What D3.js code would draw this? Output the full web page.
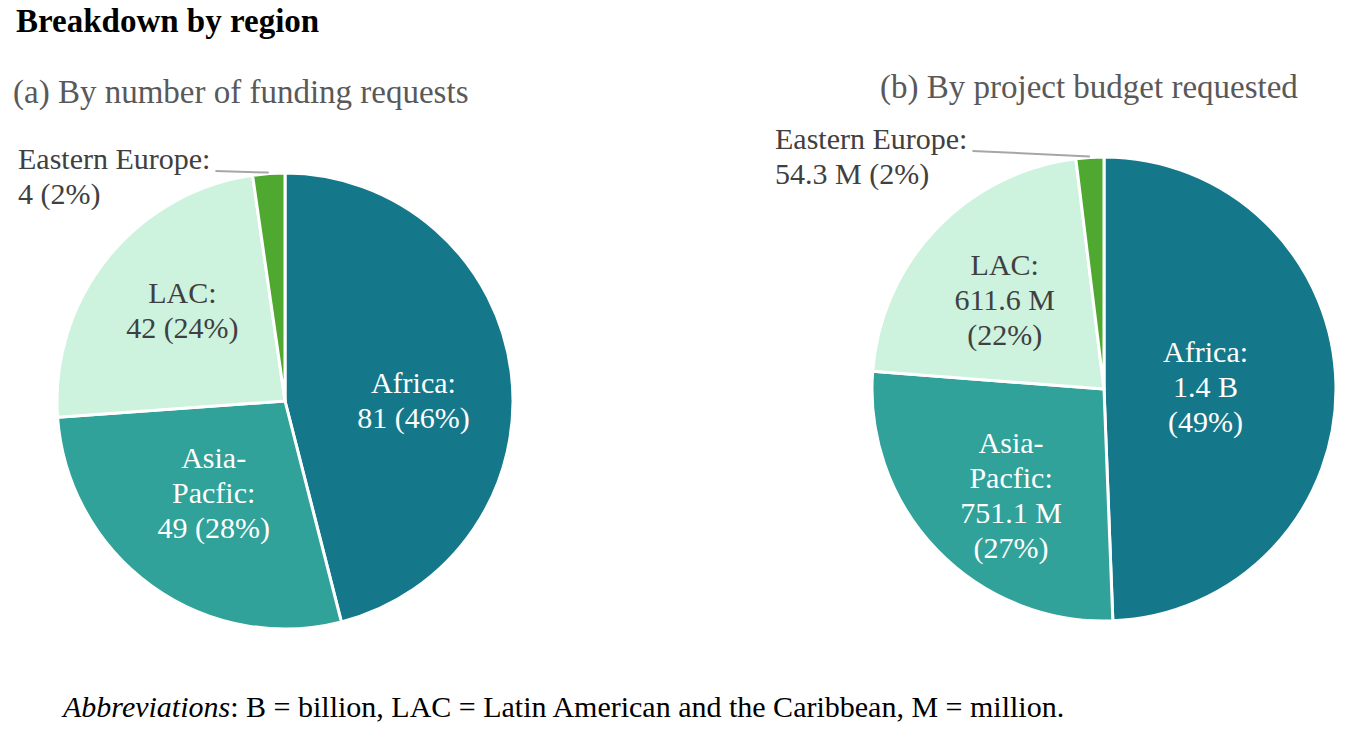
<!DOCTYPE html>
<html>
<head>
<meta charset="utf-8">
<script src="https://cdn.jsdelivr.net/npm/d3@7"></script>
<style>
  body { margin: 0; background: #fff; }
  text { font-family: "Liberation Serif", "Times New Roman", serif; }
</style>
</head>
<body>
<script>
// data
const regions = ["Africa", "Asia-Pacific", "LAC", "Eastern Europe"];
const requestCounts = [81, 49, 42, 4];
const budgetMillions = [1383, 751.1, 611.6, 54.3];
const requestLabels = [["Africa:", "81 (46%)"], ["Asia-", "Pacfic:", "49 (28%)"], ["LAC:", "42 (24%)"], ["Eastern Europe:", "4 (2%)"]];
const budgetLabels = [["Africa:", "1.4 B", "(49%)"], ["Asia-", "Pacfic:", "751.1 M", "(27%)"], ["LAC:", "611.6 M", "(22%)"], ["Eastern Europe:", "54.3 M (2%)"]];

const W = 1370, H = 742;
const colors = d3.scaleOrdinal().domain(regions)
  .range(["#15788a", "#30a299", "#cdf2de", "#4fa82f"]);
const textColors = { "Africa": "#fff", "Asia-Pacific": "#fff", "LAC": "#404040" };

const svg = d3.select("body").append("svg")
  .attr("width", W).attr("height", H);

svg.append("text")
  .attr("x", 16).attr("y", 32)
  .attr("font-size", 33).attr("font-weight", "bold")
  .attr("fill", "#000")
  .text("Breakdown by region");

const fs = 30, lh = 35;

function drawPie(opts) {
  const g = svg.append("g").attr("transform", `translate(${opts.cx},${opts.cy})`);
  const pie = d3.pie().sort(null).value(d => d.v);
  const arcs = pie(opts.values.map((v, i) => ({ v: v, name: regions[i], label: opts.labels[i] })));
  const arc = d3.arc().innerRadius(0).outerRadius(opts.r);
  const labelArc = d3.arc().innerRadius(opts.r * 0.55).outerRadius(opts.r * 0.55);

  g.selectAll("path").data(arcs).enter().append("path")
    .attr("d", arc)
    .attr("fill", d => colors(d.data.name))
    .attr("stroke", "#fff")
    .attr("stroke-width", 3)
    .attr("stroke-linejoin", "round");

  arcs.forEach(d => {
    if (d.data.name === "Eastern Europe") {
      // outside label with leader line
      const mid = (d.startAngle + d.endAngle) / 2;
      const px = Math.sin(mid) * opts.r, py = -Math.cos(mid) * opts.r;
      const t = g.append("text")
        .attr("x", opts.eeX).attr("y", opts.eeY)
        .attr("font-size", fs).attr("fill", "#404040");
      d.data.label.forEach((s, i) => {
        t.append("tspan").attr("x", opts.eeX).attr("dy", i === 0 ? 0 : lh).text(s);
      });
      const w = t.select("tspan").node().getComputedTextLength();
      g.append("line")
        .attr("x1", opts.eeX + w + 5).attr("y1", opts.eeY + 2)
        .attr("x2", px).attr("y2", py - 1)
        .attr("stroke", "#a6a6a6").attr("stroke-width", 2);
    } else {
      const c = labelArc.centroid(d);
      const off = opts.offsets[d.data.name];
      const n = d.data.label.length;
      const t = g.append("text")
        .attr("text-anchor", "middle")
        .attr("font-size", fs)
        .attr("fill", textColors[d.data.name]);
      d.data.label.forEach((s, i) => {
        t.append("tspan")
          .attr("x", c[0] + off[0])
          .attr("y", c[1] + off[1] + (i - (n - 1) / 2) * lh + 10)
          .text(s);
      });
    }
  });

  svg.append("text")
    .attr("x", opts.titleX).attr("y", opts.titleY)
    .attr("font-size", 33).attr("fill", "#595959")
    .text(opts.title);
}

drawPie({
  cx: 285, cy: 401, r: 228,
  values: requestCounts, labels: requestLabels,
  title: "(a) By number of funding requests", titleX: 13, titleY: 103,
  eeX: 18 - 285, eeY: 169 - 401,
  offsets: { "Africa": [4, 15], "Asia-Pacific": [2, -10], "LAC": [-5, -12] }
});

drawPie({
  cx: 1104, cy: 389, r: 232,
  values: budgetMillions, labels: budgetLabels,
  title: "(b) By project budget requested", titleX: 880, titleY: 98,
  eeX: 775 - 1104, eeY: 149 - 389,
  offsets: { "Africa": [-26, 0], "Asia-Pacific": [-1, 18], "LAC": [-7, -1] }
});

const foot = svg.append("text")
  .attr("x", 63).attr("y", 717)
  .attr("font-size", 30).attr("fill", "#000");
foot.append("tspan").attr("font-style", "italic").text("Abbreviations");
foot.append("tspan").text(": B = billion, LAC = Latin American and the Caribbean, M = million.");
</script>
</body>
</html>
